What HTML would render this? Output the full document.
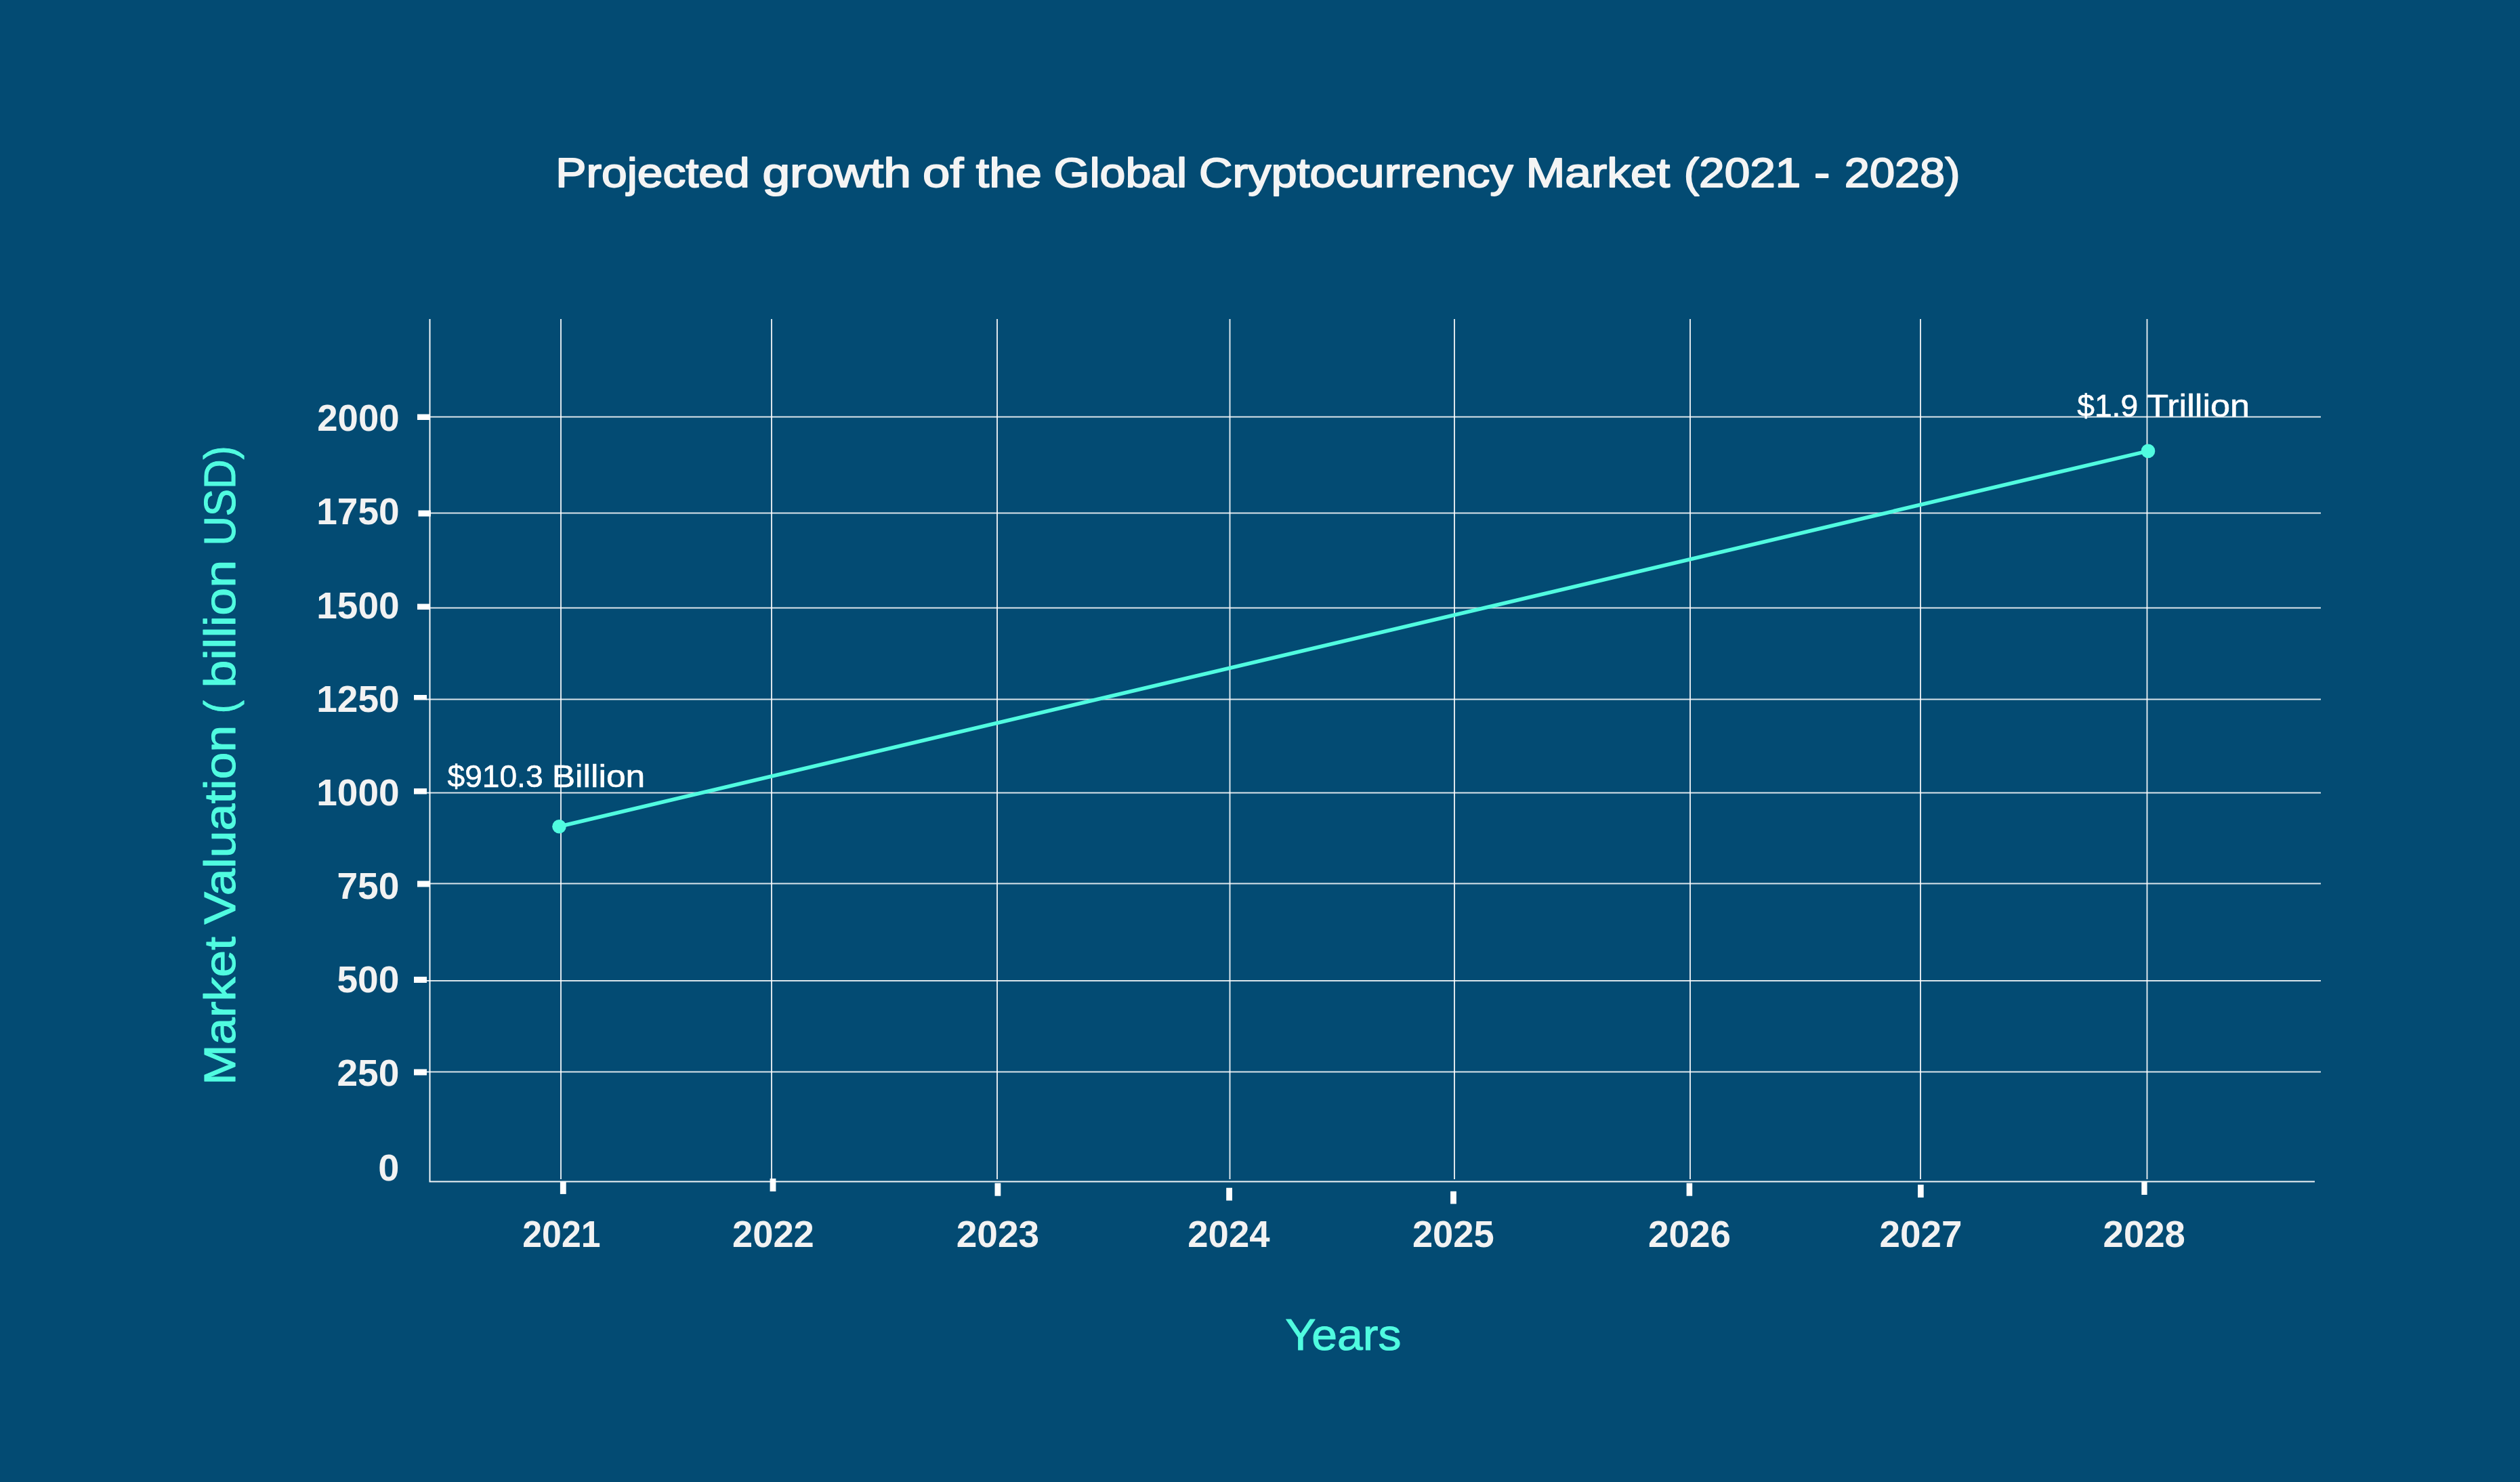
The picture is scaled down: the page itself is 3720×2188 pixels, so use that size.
<!DOCTYPE html>
<html lang="en">
<head>
<meta charset="utf-8">
<title>Projected growth of the Global Cryptocurrency Market (2021 - 2028)</title>
<style>
html,body{margin:0;padding:0;background:#034b73;}
body{width:3720px;height:2188px;overflow:hidden;}
svg{display:block;will-change:transform;}
text{font-family:"Liberation Sans",Arial,sans-serif;}
.t{font-weight:400;fill:#f4f4f4;stroke:#f4f4f4;stroke-width:1.9px;stroke-linejoin:round;}
.yl,.xl{font-weight:700;fill:#f2f2f2;}
.ax{font-weight:400;fill:#50fbe0;stroke:#50fbe0;stroke-width:1.1px;stroke-linejoin:round;}
.an{font-weight:400;fill:#ffffff;stroke:#ffffff;stroke-width:0.6px;stroke-linejoin:round;}
.g{stroke:#ffffff;stroke-opacity:0.86;stroke-width:2;fill:none;}
.tk{fill:#ffffff;}
</style>
</head>
<body>
<svg width="3720" height="2188" viewBox="0 0 3720 2188">
<rect x="0" y="0" width="3720" height="2188" fill="#034b73"/>

<!-- title -->
<text class="t" x="820.25" y="276" font-size="61.6" textLength="286.47" lengthAdjust="spacingAndGlyphs">Projected</text>
<text class="t" x="1125.4" y="276" font-size="61.6" textLength="219.54" lengthAdjust="spacingAndGlyphs">growth</text>
<text class="t" x="1361.9" y="276" font-size="61.6" textLength="60.41" lengthAdjust="spacingAndGlyphs">of</text>
<text class="t" x="1440.85" y="276" font-size="61.6" textLength="96.93" lengthAdjust="spacingAndGlyphs">the</text>
<text class="t" x="1555.55" y="276" font-size="61.6" textLength="196.68" lengthAdjust="spacingAndGlyphs">Global</text>
<text class="t" x="1770.05" y="276" font-size="61.6" textLength="463.57" lengthAdjust="spacingAndGlyphs">Cryptocurrency</text>
<text class="t" x="2252.4" y="276" font-size="61.6" textLength="212.61" lengthAdjust="spacingAndGlyphs">Market</text>
<text class="t" x="2485.65" y="276" font-size="61.6" textLength="172.57" lengthAdjust="spacingAndGlyphs">(2021</text>
<text class="t" x="2678.0" y="276" font-size="61.6" textLength="23.34" lengthAdjust="spacingAndGlyphs">-</text>
<text class="t" x="2722.85" y="276" font-size="61.6" textLength="170.57" lengthAdjust="spacingAndGlyphs">2028)</text>
<!-- grid -->
<g class="g">
<line x1="629" y1="615.5" x2="3426" y2="615.5"/>
<line x1="629" y1="757.5" x2="3426" y2="757.5"/>
<line x1="629" y1="897.5" x2="3426" y2="897.5"/>
<line x1="629" y1="1032.5" x2="3426" y2="1032.5"/>
<line x1="629" y1="1170.5" x2="3426" y2="1170.5"/>
<line x1="629" y1="1304.5" x2="3426" y2="1304.5"/>
<line x1="629" y1="1448" x2="3426" y2="1448"/>
<line x1="629" y1="1582.5" x2="3426" y2="1582.5"/>
<line x1="828" y1="471" x2="828" y2="1741"/>
<line x1="1139" y1="471" x2="1139" y2="1741"/>
<line x1="1472" y1="471" x2="1472" y2="1741"/>
<line x1="1815.5" y1="471" x2="1815.5" y2="1741"/>
<line x1="2147" y1="471" x2="2147" y2="1741"/>
<line x1="2495" y1="471" x2="2495" y2="1741"/>
<line x1="2835" y1="471" x2="2835" y2="1741"/>
<line x1="3169.5" y1="471" x2="3169.5" y2="1741"/>
</g>
<path d="M634.5 471V1744.5H3417" fill="none" stroke="#ffffff" stroke-opacity="0.95" stroke-width="2"/>

<!-- ticks -->
<g class="tk">
<rect x="616" y="611.5" width="18.5" height="8.5"/>
<rect x="617.5" y="753.5" width="18.5" height="9"/>
<rect x="616" y="891.5" width="18.5" height="8.5"/>
<rect x="611" y="1026" width="19" height="7.5"/>
<rect x="611" y="1164" width="19" height="8.5"/>
<rect x="616" y="1300.5" width="18.5" height="9"/>
<rect x="611" y="1442" width="19" height="9"/>
<rect x="611" y="1578.5" width="19" height="9"/>
<rect x="826.9" y="1744.3" width="8.8" height="18.6"/>
<rect x="1136.6" y="1740" width="8.8" height="19"/>
<rect x="1468.5" y="1746.7" width="8.8" height="19"/>
<rect x="1810.2" y="1753.7" width="8.8" height="18.8"/>
<rect x="2141.1" y="1758.8" width="8.8" height="18.6"/>
<rect x="2489.6" y="1746.7" width="8.6" height="19"/>
<rect x="2831" y="1749" width="8.7" height="19"/>
<rect x="3161.3" y="1744.4" width="8.3" height="19.6"/>
</g>
<!-- y axis labels -->
<text class="yl" x="468.25" y="635.95" font-size="55.7" textLength="121.34" lengthAdjust="spacingAndGlyphs">2000</text>
<text class="yl" x="467.25" y="773.95" font-size="55.7" textLength="122.38" lengthAdjust="spacingAndGlyphs">1750</text>
<text class="yl" x="467.25" y="912.65" font-size="55.7" textLength="122.38" lengthAdjust="spacingAndGlyphs">1500</text>
<text class="yl" x="467.25" y="1050.65" font-size="55.7" textLength="122.38" lengthAdjust="spacingAndGlyphs">1250</text>
<text class="yl" x="467.25" y="1188.65" font-size="55.7" textLength="122.38" lengthAdjust="spacingAndGlyphs">1000</text>
<text class="yl" x="497.4" y="1326.95" font-size="55.7" textLength="92.07" lengthAdjust="spacingAndGlyphs">750</text>
<text class="yl" x="497.4" y="1465.35" font-size="55.7" textLength="92.05" lengthAdjust="spacingAndGlyphs">500</text>
<text class="yl" x="497.4" y="1603.1" font-size="55.7" textLength="92.05" lengthAdjust="spacingAndGlyphs">250</text>
<text class="yl" x="558.25" y="1743.25" font-size="55.7" textLength="31.14" lengthAdjust="spacingAndGlyphs">0</text>
<!-- x axis labels -->
<text class="xl" x="771.3" y="1841.35" font-size="55.5" textLength="115.28" lengthAdjust="spacingAndGlyphs">2021</text>
<text class="xl" x="1081.0" y="1841.35" font-size="55.5" textLength="120.78" lengthAdjust="spacingAndGlyphs">2022</text>
<text class="xl" x="1411.75" y="1841.35" font-size="55.5" textLength="122.37" lengthAdjust="spacingAndGlyphs">2023</text>
<text class="xl" x="1753.3" y="1841.35" font-size="55.5" textLength="121.19" lengthAdjust="spacingAndGlyphs">2024</text>
<text class="xl" x="2084.9" y="1841.35" font-size="55.5" textLength="120.78" lengthAdjust="spacingAndGlyphs">2025</text>
<text class="xl" x="2432.9" y="1841.35" font-size="55.5" textLength="122.03" lengthAdjust="spacingAndGlyphs">2026</text>
<text class="xl" x="2774.45" y="1841.35" font-size="55.5" textLength="121.94" lengthAdjust="spacingAndGlyphs">2027</text>
<text class="xl" x="3104.55" y="1841.35" font-size="55.5" textLength="121.33" lengthAdjust="spacingAndGlyphs">2028</text>
<!-- axis titles -->
<text class="ax" transform="translate(346.9,1601.95) rotate(-90)" font-size="65.3" textLength="219.12" lengthAdjust="spacingAndGlyphs">Market</text>
<text class="ax" transform="translate(346.9,1364.75) rotate(-90)" font-size="65.3" textLength="293.98" lengthAdjust="spacingAndGlyphs">Valuation</text>
<text class="ax" transform="translate(346.9,1053.2) rotate(-90)" font-size="65.3" textLength="19.21" lengthAdjust="spacingAndGlyphs">(</text>
<text class="ax" transform="translate(346.9,1015.5) rotate(-90)" font-size="65.3" textLength="188.85" lengthAdjust="spacingAndGlyphs">billion</text>
<text class="ax" transform="translate(346.9,805.7) rotate(-90)" font-size="65.3" textLength="147.46" lengthAdjust="spacingAndGlyphs">USD)</text>
<text class="ax" x="1897.2" y="1992.65" font-size="65.3" textLength="171.31" lengthAdjust="spacingAndGlyphs">Years</text>
<!-- data -->
<line x1="825.5" y1="1220.2" x2="3171" y2="665.9" stroke="#50fbe0" stroke-width="5.6" stroke-linecap="round"/>
<circle cx="825.5" cy="1220.2" r="10.3" fill="#50fbe0"/>
<circle cx="3171" cy="665.9" r="10.3" fill="#50fbe0"/>
<!-- annotations -->
<text class="an" x="660.55" y="1162.25" font-size="46.4" textLength="141.0" lengthAdjust="spacingAndGlyphs">$910.3</text>
<text class="an" x="814.65" y="1162.25" font-size="46.4" textLength="137.64" lengthAdjust="spacingAndGlyphs">Billion</text>
<text class="an" x="3066.2" y="615.2" font-size="46.4" textLength="89.96" lengthAdjust="spacingAndGlyphs">$1.9</text>
<text class="an" x="3169.25" y="615.2" font-size="46.4" textLength="151.83" lengthAdjust="spacingAndGlyphs">Trillion</text>
</svg>
</body>
</html>
